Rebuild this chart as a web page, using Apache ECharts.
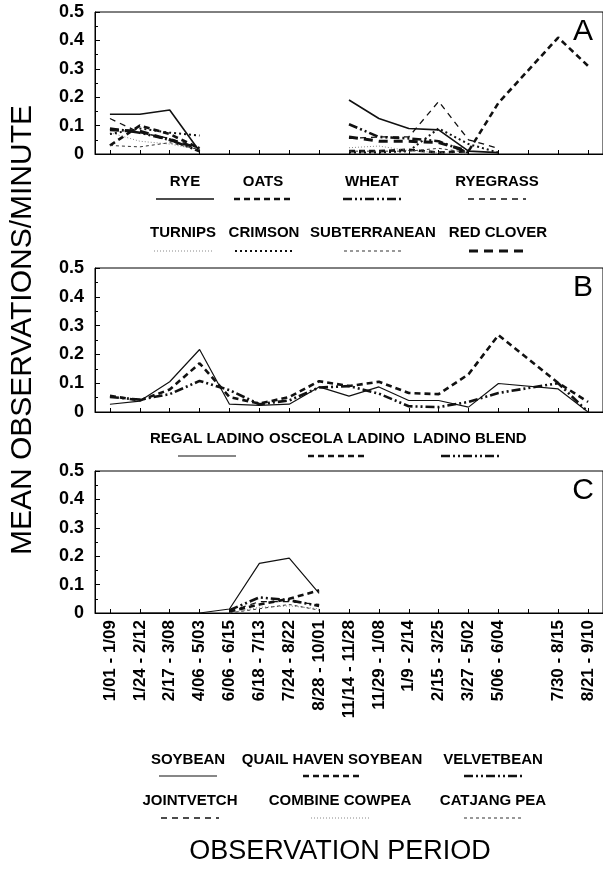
<!DOCTYPE html>
<html><head><meta charset="utf-8">
<script src="https://cdn.jsdelivr.net/npm/echarts@6/dist/echarts.min.js"></script>
<style>html,body{margin:0;padding:0;background:#fff}#c{width:603px;height:879px}</style>
</head><body><div id="c"></div><script>
// ---------- DATA ----------
const periods = ["1/01 - 1/09","1/24 - 2/12","2/17 - 3/08","4/06 - 5/03","6/06 - 6/15","6/18 - 7/13","7/24 - 8/22","8/28 - 10/01","11/14 - 11/28","11/29 - 1/08","1/9 - 2/14","2/15 - 3/25","3/27 - 5/02","5/06 - 6/04","7/30 - 8/15","8/21 - 9/10"];
const gapBefore = 14; // an empty slot on the axis before "7/30 - 8/15"
const yTicks = [0, 0.1, 0.2, 0.3, 0.4, 0.5];

// Panel A
const namesA = ["RYE","OATS","WHEAT","RYEGRASS","TURNIPS","CRIMSON","SUBTERRANEAN","RED CLOVER"];
const rye          = [0.14,0.14,0.155,0.01,null,null,null,null,0.19,0.125,0.09,0.085,0.01,0.005,null,null];
const oats         = [0.03,0.10,0.07,0.02,null,null,null,null,0.01,0.01,0.015,0.005,0.01,0.18,0.41,0.31];
const wheat        = [0.09,0.075,0.05,0.01,null,null,null,null,0.105,0.06,0.055,0.045,0.005,null,null,null];
const ryegrass     = [0.125,0.075,0.055,0.02,null,null,null,null,0.055,0.06,0.06,0.185,0.05,0.02,null,null];
const turnips      = [0.075,0.045,0.035,0.015,null,null,null,null,0.022,0.028,0.012,0.005,0.0,null,null,null];
const crimson      = [0.07,0.09,0.075,0.065,null,null,null,null,0.005,0.005,0.01,0.09,0.035,0.005,null,null];
const subterranean = [0.03,0.025,0.04,0.015,null,null,null,null,0.01,0.01,0.01,0.02,0.005,null,null,null];
const redClover    = [0.085,0.08,0.05,0.02,null,null,null,null,0.06,0.045,0.045,0.04,0.01,null,null,null];

// Panel B
const namesB = ["REGAL LADINO","OSCEOLA LADINO","LADINO BLEND"];
const regalLadino   = [0.027,0.038,0.105,0.217,0.027,0.023,0.027,0.087,0.055,0.087,0.04,0.04,0.017,0.099,0.08,0.0];
const osceolaLadino = [0.056,0.04,0.078,0.169,0.052,0.029,0.052,0.107,0.09,0.105,0.066,0.062,0.131,0.267,0.101,0.035];
const ladinoBlend   = [0.052,0.043,0.062,0.108,0.076,0.027,0.04,0.085,0.09,0.064,0.02,0.017,0.035,0.066,0.1,0.0];

// Panel C
const namesC = ["SOYBEAN","QUAIL HAVEN SOYBEAN","VELVETBEAN","JOINTVETCH","COMBINE COWPEA","CATJANG PEA"];
const soybean     = [null,0,0,0,0.014,0.175,0.193,0.069,null,null,null,null,null,null,null,null];
const quailHaven  = [null,null,null,null,0.005,0.03,0.05,0.08,null,null,null,null,null,null,null,null];
const velvetbean  = [null,null,null,null,0.01,0.055,0.045,0.025,null,null,null,null,null,null,null,null];
const jointvetch  = [null,null,null,null,0.005,0.04,0.04,0.03,null,null,null,null,null,null,null,null];
const combineCowpea = [null,null,null,null,0.0,0.02,0.025,0.015,null,null,null,null,null,null,null,null];
const catjangPea  = [null,null,null,null,0.0,0.015,0.03,0.01,null,null,null,null,null,null,null,null];

// ---------- STYLES / LAYOUT ----------
const INK = '#111';
const STY = {
  solid:     {type:'solid', width:1.6, color:INK},
  solidThin: {type:'solid', width:1.2, color:INK},
  thickDash: {type:[6,4], width:2.6, color:INK},
  dashDot:   {type:[9,3,2,3,2,3], width:2.6, color:INK},
  dash:      {type:[6,5], width:1.3, color:INK},
  fineDot:   {type:[1,2], width:1, color:'#888'},
  dot:       {type:[2,3], width:2, color:INK},
  fineDash:  {type:[3,3], width:1, color:'#333'},
  longDash:  {type:[9,6], width:3, color:INK}
};
const panels = [
  {top:12, height:142, letter:'A',
   series:[[rye,'solid'],[oats,'thickDash'],[wheat,'dashDot'],[ryegrass,'dash'],[turnips,'fineDot'],[crimson,'dot'],[subterranean,'fineDash'],[redClover,'longDash']],
   names:namesA,
   legend:[{ty:182, ly:199, xs:[185,263,372,497], idx:[0,1,2,3]},{ty:233, ly:251, xs:[183,264,373,498], idx:[4,5,6,7]}]},
  {top:268, height:144, letter:'B',
   series:[[regalLadino,'solidThin'],[osceolaLadino,'thickDash'],[ladinoBlend,'dashDot']],
   names:namesB,
   legend:[{ty:439, ly:456, xs:[207,337,470], idx:[0,1,2]}]},
  {top:471, height:142, letter:'C',
   series:[[soybean,'solidThin'],[quailHaven,'thickDash'],[velvetbean,'dashDot'],[jointvetch,'dash'],[combineCowpea,'fineDot'],[catjangPea,'fineDash']],
   names:namesC,
   legend:[{ty:760, ly:776, xs:[188,332,493], idx:[0,1,2]},{ty:801, ly:818, xs:[190,340,493], idx:[3,4,5]}]}
];

// axis slots with the empty position
const axisSlots = periods.slice(0,gapBefore).concat([''], periods.slice(gapBefore));
const slotOf = i => (i < gapBefore ? i : i + 1);

const FONT = '"Liberation Sans", Arial, sans-serif';
const grids = [], xAxes = [], yAxes = [], series = [], graphics = [];
panels.forEach((p, pi) => {
  grids.push({left:95, right:-1, top:p.top, height:p.height, show:true, borderColor:'#000', borderWidth:1, backgroundColor:'transparent'});
  xAxes.push({
    type:'category', gridIndex:pi, data:axisSlots, boundaryGap:true,
    axisLine:{show:true, lineStyle:{color:'#000', width:1}},
    axisTick:{show:true, inside:true, alignWithLabel:true, length:4, interval:0, lineStyle:{color:'#000'}},
    axisLabel:{show: pi === 2, interval:0, rotate:90, margin:7, color:'#000', fontFamily:FONT, fontWeight:'bold', fontSize:17},
    splitLine:{show:false}
  });
  yAxes.push({
    type:'value', gridIndex:pi, min:yTicks[0], max:yTicks[yTicks.length-1], interval:yTicks[1]-yTicks[0],
    axisLine:{show:true, lineStyle:{color:'#000', width:1}},
    axisTick:{show:true, inside:true, length:5, lineStyle:{color:'#000'}},
    minorTick:{show:true, splitNumber:2, length:3, lineStyle:{color:'#000'}},
    axisLabel:{color:'#000', fontFamily:FONT, fontWeight:'bold', fontSize:18, margin:11,
      formatter: v => (v === 0 ? '0' : String(+v.toFixed(1)))},
    splitLine:{show:false}
  });
  p.series.forEach(([arr, st], si) => {
    const s = STY[st];
    series.push({
      type:'line', name:p.names[si], xAxisIndex:pi, yAxisIndex:pi,
      data: arr.map((v, i) => [slotOf(i), v]),
      showSymbol:false, symbol:'none', connectNulls:false, animation:false,
      lineStyle:{color:s.color, width:s.width, type:s.type}, z: 2 + si
    });
  });
  graphics.push({type:'text', x:583, y:p.top + 20, style:{text:p.letter, align:'center', verticalAlign:'middle', font:'30px ' + FONT, fill:'#000'}});
  p.legend.forEach(row => {
    row.idx.forEach((si, k) => {
      const s = STY[p.series[si][1]];
      const cx = row.xs[k];
      graphics.push({type:'text', x:cx, y:row.ty, style:{text:p.names[si], align:'center', verticalAlign:'middle', font:'bold 15px ' + FONT, fill:'#000'}});
      graphics.push({type:'line', shape:{x1:cx-29, y1:row.ly, x2:cx+29, y2:row.ly},
        style:{stroke:s.color, lineWidth:s.width, lineDash: s.type === 'solid' ? null : s.type}});
    });
  });
});
graphics.push({type:'text', x:23, y:330, rotation:Math.PI/2, style:{text:'MEAN OBSERVATIONS/MINUTE', align:'center', verticalAlign:'middle', font:'30px ' + FONT, fill:'#000'}});
graphics.push({type:'text', x:340, y:852, style:{text:'OBSERVATION PERIOD', align:'center', verticalAlign:'middle', font:'27px ' + FONT, fill:'#000'}});

const chart = echarts.init(document.getElementById('c'), null, {renderer:'canvas'});
chart.setOption({
  backgroundColor:'#fff', animation:false,
  grid:grids, xAxis:xAxes, yAxis:yAxes, series:series, graphic:graphics
});
</script></body></html>
